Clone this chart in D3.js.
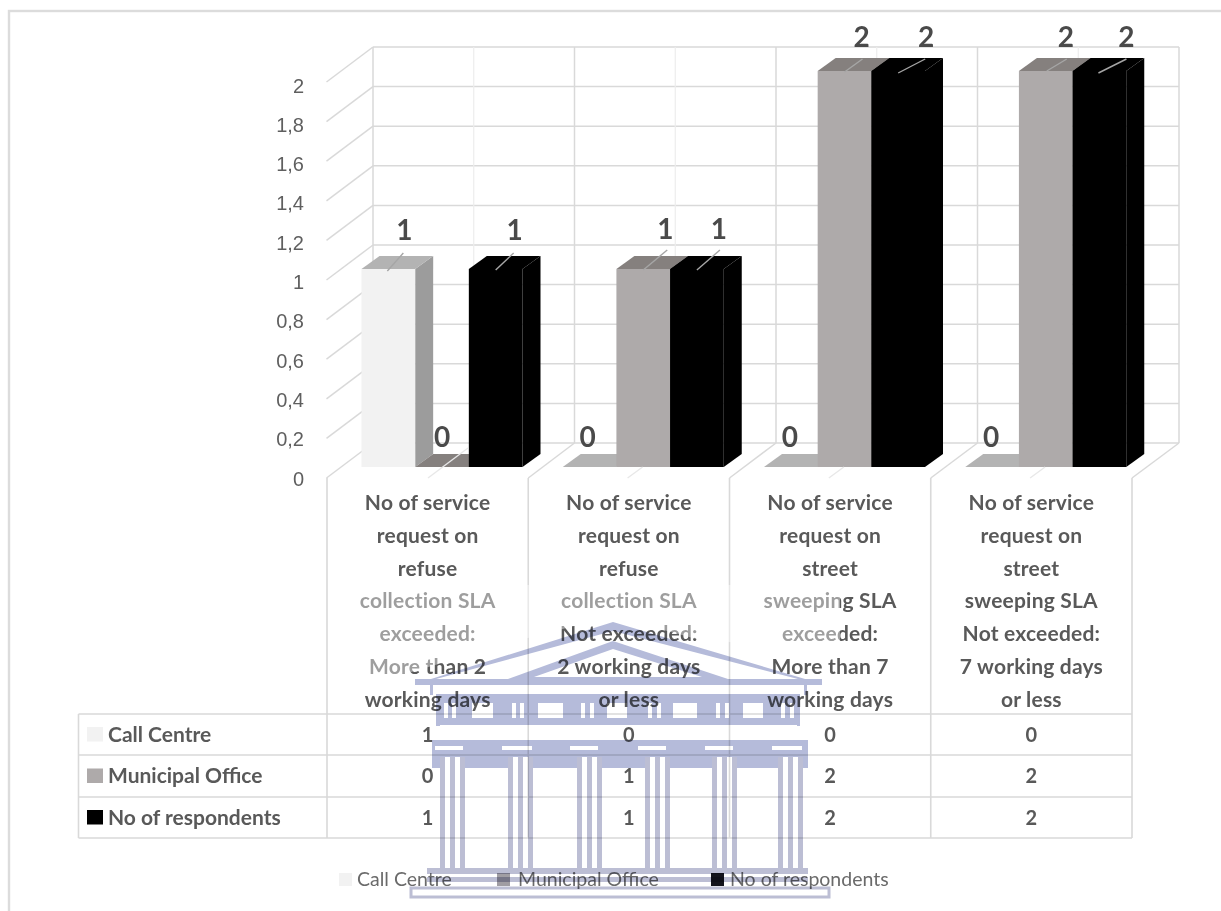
<!DOCTYPE html>
<html>
<head>
<meta charset="utf-8">
<title>Service requests by channel</title>
<script src="https://cdn.jsdelivr.net/npm/d3@7/dist/d3.min.js"></script>
<style>
  html, body { margin: 0; padding: 0; background: #fff; overflow: hidden; }
  svg { display: block; font-family: Lato, "Open Sans", sans-serif; }
  .grid { stroke: #d9d9d9; stroke-width: 1.5; fill: none; }
  .minor { stroke: #ededed; stroke-width: 1.2; fill: none; }
  .tbl { stroke: #d9d9d9; stroke-width: 1.6; fill: none; }
  .tick text { font-size: 20px; fill: #5f5f5f; }
  .val { font-size: 28px; font-weight: 700; fill: #4a4a4a; text-anchor: middle; }
  .cat { font-size: 21px; font-weight: 700; fill: #595959; text-anchor: middle; letter-spacing: .2px; }
  .cell { font-size: 20px; font-weight: 700; fill: #595959; text-anchor: middle; }
  .key { font-size: 21px; font-weight: 700; fill: #595959; }
  .leg { font-size: 19.5px; fill: #6a6a6a; }
</style>
</head>
<body>
<svg id="chart" width="1221" height="911"></svg>
<script>
// ---- data ----
const categories = [
  ["No of service", "request on", "refuse", "collection SLA", "exceeded:", "More than 2", "working days"],
  ["No of service", "request on", "refuse", "collection SLA", "Not exceeded:", "2 working days", "or less"],
  ["No of service", "request on", "street", "sweeping SLA", "exceeded:", "More than 7", "working days"],
  ["No of service", "request on", "street", "sweeping SLA", "Not exceeded:", "7 working days", "or less"]
];
const seriesNames = ["Call Centre", "Municipal Office", "No of respondents"];
const callCentre = [1, 0, 0, 0];
const municipalOffice = [0, 1, 2, 2];
const respondents = [1, 1, 2, 2];
const seriesValues = [callCentre, municipalOffice, respondents];
const yTicks = [0, 0.2, 0.4, 0.6, 0.8, 1, 1.2, 1.4, 1.6, 1.8, 2];

// ---- styling: front, top and side faces per series ----
const frontFill = ["#f2f2f2", "#aeaaaa", "#000000"];
const topFill = ["#b3b3b3", "#85807e", "#000000"];
const sideFill = ["#9c9c9c", "#85807e", "#000000"];
const legendFill = ["#f2f2f2", "#a09da3", "#14141c"];

// ---- oblique projection of the box ----
const wallDepth = { dx: -46.5, dy: 35 };
const barDepth = { dx: 18, dy: -13 };
const yBack = d3.scaleLinear().domain([0, 2]).range([443, 47]);
const yFront = d3.scaleLinear().domain([0, 2]).range([467, 71]);
const yLabel = d3.scaleLinear().domain([0, 2]).range([478, 85]);
const idx = categories.map((_, i) => i);
const xCat = d3.scaleBand().domain(idx).range([327, 1132]);
const xBar = d3.scaleBand().domain(seriesNames).range([34.5, 195.5]);
const xBack = d3.scaleLinear().domain([0, 4]).range([373, 1179]);

// Data label and leader placement relative to each bar: [label dx, label dy, leader x1, y1, x2, y2]
const labelLayout = [
  [[16, -39, -1, 2, 15, -16], [0, -30, -14, 11, 26, -19], [19, -39, 0, 1, 18, -16]],
  [[-2, -30, 38, 11, 53, 0], [22, -40, 0, 1, 24, -19], [22, -40, 0, 1, 23, -19]],
  [[-1, -30, 38, 11, 53, 0], [17, -34, 0, 1, 18, -12], [28, -34, 0, 2, 27, -12]],
  [[-1, -30, 38, 11, 53, 0], [20, -34, 1, 0, 21, -12], [27, -34, -1, 2, 27, -12]]
];

const svg = d3.select("#chart");

// Chart frame (only its top and left edges fall inside the page)
svg.append("rect").attr("x", 9).attr("y", 11).attr("width", 1400).attr("height", 1100)
  .attr("fill", "none").attr("stroke", "#dcdcdc").attr("stroke-width", 2.4);

// ---- walls and floor ----
const walls = svg.append("g");
walls.selectAll("line.h").data(yTicks).join("line").attr("class", "grid")
  .attr("x1", xBack(0)).attr("x2", xBack(4))
  .attr("y1", d => yBack(d)).attr("y2", d => yBack(d));
walls.selectAll("line.s").data(yTicks).join("line").attr("class", "grid")
  .attr("x1", xBack(0)).attr("y1", d => yBack(d))
  .attr("x2", xBack(0) + wallDepth.dx).attr("y2", d => yBack(d) + wallDepth.dy);
walls.selectAll("line.v").data(d3.range(0, 5)).join("line").attr("class", "grid")
  .attr("x1", d => xBack(d)).attr("x2", d => xBack(d))
  .attr("y1", yBack(2)).attr("y2", yBack(0));
walls.selectAll("line.m").data(d3.range(0.5, 4, 1)).join("line").attr("class", "minor")
  .attr("x1", d => xBack(d)).attr("x2", d => xBack(d))
  .attr("y1", yBack(2)).attr("y2", yBack(0));
walls.selectAll("line.f").data(d3.range(1, 5)).join("line").attr("class", "grid")
  .attr("x1", d => xBack(d)).attr("y1", yBack(0))
  .attr("x2", d => xCat.range()[0] + d * xCat.bandwidth()).attr("y2", yBack(0) + wallDepth.dy);

// ---- y axis labels ----
const yAxis = d3.axisLeft(yLabel).tickValues(yTicks).tickSize(0)
  .tickFormat(d => String(d).replace(".", ","));
svg.append("g").attr("transform", "translate(304,0)").call(yAxis)
  .call(g => g.select(".domain").remove())
  .call(g => g.selectAll("text").attr("x", 0).attr("dy", "0.35em"));

// ---- data table ----
const rowLines = [714, 755, 797, 838];
const tableLeft = 78.5;
const tbl = svg.append("g");
const catEdges = d3.range(0, 5).map(d => xCat.range()[0] + d * xCat.bandwidth());
tbl.selectAll("line.r").data(rowLines).join("line").attr("class", "tbl")
  .attr("x1", tableLeft).attr("x2", xCat.range()[1]).attr("y1", d => d).attr("y2", d => d);
tbl.selectAll("line.c").data(catEdges).join("line").attr("class", "tbl")
  .attr("x1", d => d).attr("x2", d => d).attr("y1", yBack(0) + wallDepth.dy).attr("y2", rowLines[3]);
tbl.append("line").attr("class", "tbl").attr("x1", tableLeft).attr("x2", tableLeft)
  .attr("y1", rowLines[0]).attr("y2", rowLines[3]);

seriesNames.forEach((name, s) => {
  const mid = (rowLines[s] + rowLines[s + 1]) / 2;
  tbl.append("rect").attr("x", 87).attr("y", mid - 7.5).attr("width", 16).attr("height", 14.5)
    .attr("fill", frontFill[s]);
  tbl.append("text").attr("class", "key").attr("x", 108).attr("y", mid).attr("dy", "0.35em").text(name);
  tbl.selectAll(null).data(seriesValues[s]).join("text").attr("class", "cell")
    .attr("x", (d, c) => xCat(c) + xCat.bandwidth() / 2).attr("y", mid).attr("dy", "0.35em")
    .text(d => d);
});

// Category labels in the table header
const catGroups = svg.append("g").selectAll("g").data(categories).join("g");
catGroups.selectAll("text").data((d, c) => d.map(t => ({ t, c }))).join("text").attr("class", "cat")
  .attr("x", d => xCat(d.c) + xCat.bandwidth() / 2)
  .attr("y", (d, i) => 503 + i * 32.7).attr("dy", "0.35em")
  .text(d => d.t);

// ---- 3-D columns, painted from left to right ----
const pts = a => a.map(p => p.join(",")).join(" ");
const barsLayer = svg.append("g");
idx.forEach(c => {
  seriesNames.forEach((name, s) => {
    const v = seriesValues[s][c];
    const x0 = xCat(c) + xBar(name), x1 = x0 + xBar.bandwidth();
    const yt = yFront(v), yb = yFront(0);
    const { dx, dy } = barDepth;
    if (v > 0) {
      barsLayer.append("polygon").attr("fill", sideFill[s])
        .attr("points", pts([[x1, yt], [x1 + dx, yt + dy], [x1 + dx, yb + dy], [x1, yb]]));
    }
    barsLayer.append("polygon").attr("fill", topFill[s])
      .attr("points", pts([[x0, yt], [x0 + dx, yt + dy], [x1 + dx, yt + dy], [x1, yt]]));
    if (v > 0) {
      barsLayer.append("rect").attr("x", x0).attr("y", yt)
        .attr("width", x1 - x0).attr("height", yb - yt).attr("fill", frontFill[s]);
    }
  });
});

// ---- data labels with their leader lines ----
const labelsLayer = svg.append("g");
idx.forEach(c => {
  seriesNames.forEach((name, s) => {
    const v = seriesValues[s][c];
    if (c > 0 && s === 0 || c === 0 || v > 0) {
      const cx = xCat(c) + xBar(name) + xBar.bandwidth() / 2;
      const yt = yFront(v);
      const [ldx, ldy, ax, ay, bx, by] = labelLayout[c][s];
      labelsLayer.append("line")
        .attr("x1", cx + ax).attr("y1", yt + ay).attr("x2", cx + bx).attr("y2", yt + by)
        .attr("stroke", v === 0 ? "#e8e8e8" : "#a6a6a6").attr("stroke-width", 1.4);
      labelsLayer.append("text").attr("class", "val")
        .attr("x", cx + ldx).attr("y", yt + ldy).attr("dy", "0.35em").text(v);
    }
  });
});

// ---- legend ----
const legendSwatchX = [339, 497, 711];
const legendTextX = [357, 518, 730];
const legend = svg.append("g");
seriesNames.forEach((name, s) => {
  legend.append("rect").attr("x", legendSwatchX[s]).attr("y", 873).attr("width", 13).attr("height", 13)
    .attr("fill", legendFill[s]);
  legend.append("text").attr("class", "leg").attr("x", legendTextX[s]).attr("y", 879)
    .attr("dy", "0.35em").text(name);
});

// ---- pale crest over the lower part of the page ----
const columnLeft = [440, 508, 577, 645, 712, 778];
const columnStripe = [0, 10, 20];
const crestBlue = "#b5bbda";
const crestGrey = "#bcbed4";

svg.append("polygon").attr("fill", "#fff").attr("fill-opacity", 0.42)
  .attr("points", pts([[350, 585], [840, 585], [840, 650], [700, 640], [613, 616], [520, 640], [350, 690]]));

const crest = svg.append("g").style("mix-blend-mode", "multiply");
const poly = (p, f) => crest.append("polygon").attr("points", pts(p)).attr("fill", f);
const box = (x, y, w, h, f) => crest.append("rect").attr("x", x).attr("y", y).attr("width", w).attr("height", h).attr("fill", f);

poly([[415, 684], [613, 622], [822, 684]], crestBlue);
poly([[436, 679], [613, 631], [798, 679]], "#fff");
poly([[508, 679], [613, 641], [728, 679]], crestBlue);
poly([[534, 677], [613, 649], [702, 677]], "#fff");
box(415, 679, 407, 6, crestBlue);
box(430, 685, 377, 9, "#fff");
box(430, 685, 3, 10, crestBlue);
box(804, 685, 3, 10, crestBlue);
box(436, 694, 364, 30, crestBlue);
[[472, 21], [538, 25], [607, 20], [673, 24], [743, 20]].forEach(([x, w]) => box(x, 703, w, 15, "#fff"));
[444, 452, 512, 520, 581, 590, 648, 657, 716, 725, 781, 790].forEach(x => box(x, 703, 4, 15, "#fff"));
box(436, 724, 364, 2, crestBlue);
box(440, 725, 357, 15, "#fff");
box(432, 740, 376, 28, crestBlue);
[[435, 28], [502, 30], [570, 28], [638, 28], [705, 28], [772, 30]].forEach(([x, w]) => box(x, 746, w, 4, "#fff"));
columnLeft.forEach(x => {
  box(x + 5, 757, 6, 11, "#fff");
  box(x + 15, 757, 6, 11, "#fff");
  columnStripe.forEach(o => box(x + o, 757, 5, 112, crestGrey));
});
box(427, 868, 381, 6, crestGrey);
box(427, 877, 381, 5, crestGrey);
crest.append("rect").attr("x", 411).attr("y", 888).attr("width", 418).attr("height", 9)
  .attr("fill", "none").attr("stroke", crestGrey).attr("stroke-width", 3);
</script>
</body>
</html>
